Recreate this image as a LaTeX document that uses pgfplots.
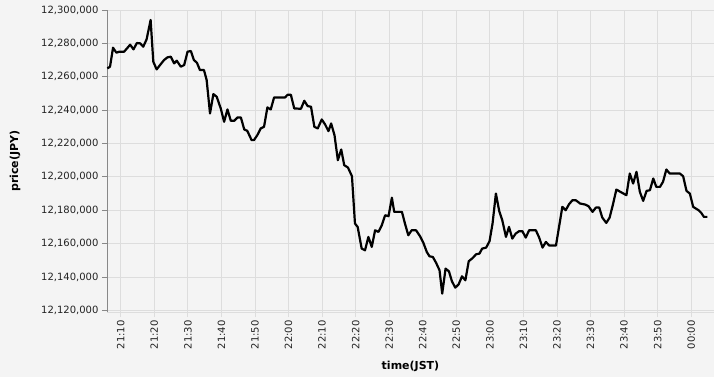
\documentclass[border=0pt]{standalone}
\usepackage{pgfplots}
\pgfplotsset{compat=1.18}
\usepackage{fontspec}
\setmainfont{DejaVu Sans}
\definecolor{bgc}{HTML}{F4F4F4}
\definecolor{gridc}{HTML}{DDDDDD}
\definecolor{axc}{HTML}{888888}
\definecolor{txtc}{HTML}{222222}
\begin{document}
\begin{tikzpicture}
\path[use as bounding box, fill=bgc] (-107pt,-65pt) rectangle (607pt,312pt);
\begin{axis}[
  at={(0pt,0pt)}, anchor=south west,
  scale only axis, width=607pt, height=302pt,
  xmin=5.9, xmax=186.8, ymin=12119000, ymax=12300000,
  axis x line*=bottom, axis y line*=left,
  x axis line style={draw=gridc, line width=1pt, -},
  y axis line style={draw=axc, line width=0.8pt, -},
  xtick={10,20,...,180},
  xticklabels={21:10,21:20,21:30,21:40,21:50,22:00,22:10,22:20,22:30,22:40,22:50,23:00,23:10,23:20,23:30,23:40,23:50,00:00},
  ytick={12120000,12140000,12160000,12180000,12200000,12220000,12240000,12260000,12280000,12300000},
  yticklabels={{12,120,000},{12,140,000},{12,160,000},{12,180,000},{12,200,000},{12,220,000},{12,240,000},{12,260,000},{12,280,000},{12,300,000}},
  scaled y ticks=false,
  tick label style={font=\fontsize{10}{12}\selectfont, text=txtc},
  xticklabel style={rotate=90, anchor=east},
  tick align=outside, major tick length=5pt,
  xtick style={draw=gridc, line width=0.8pt},
  ytick style={draw=axc, line width=0.8pt},
  grid=major, major grid style={draw=gridc, line width=0.8pt},
  xlabel={time(JST)}, ylabel={price(JPY)},
  every axis x label/.style={at={(axis description cs:0.5,0)}, yshift=-54pt, anchor=center, font=\fontsize{11}{13}\selectfont\bfseries},
  every axis y label/.style={at={(axis description cs:0,0.5)}, xshift=-92pt, rotate=90, anchor=center, font=\fontsize{11}{13}\selectfont\bfseries},
  clip=false,
]
\addplot[black, line width=2.2pt, line join=round, mark=none] coordinates {
(6.0,12265000)(6.8,12266000)(7.7,12277400)(8.7,12274400)(9.5,12275000)(11.0,12275000)
(12.8,12279200)(13.8,12276400)(14.8,12280200)(15.8,12280000)(16.7,12278000)(17.7,12282400)
(18.9,12294000)(19.7,12269000)(20.7,12264400)(21.7,12267000)(22.9,12270000)(23.9,12271600)
(24.9,12272000)(25.9,12268000)(26.7,12269600)(27.9,12266000)(28.9,12267000)(29.9,12275000)
(30.9,12275400)(31.8,12270000)(32.7,12268400)(33.6,12264000)(34.8,12264000)
(35.6,12258000)(36.6,12238000)(37.6,12249600)(38.6,12248000)(39.8,12241000)(40.8,12233000)
(41.8,12240400)(42.8,12233600)(43.8,12233600)(44.8,12235600)(45.8,12235600)(46.8,12228400)
(47.7,12227600)(49.0,12222000)(49.7,12222000)(50.7,12225000)(51.7,12229000)(52.7,12230000)
(53.7,12241600)(54.7,12240400)(55.7,12247600)(59.0,12247600)(59.7,12249200)(60.7,12249200)
(61.7,12241000)(63.7,12240800)(64.7,12245600)(65.7,12242400)(66.7,12242000)(67.7,12230000)
(68.7,12229000)(69.9,12234400)(70.9,12231400)(71.9,12227400)(72.7,12232000)(73.7,12225000)
(74.7,12210000)(75.7,12216400)(76.6,12207000)(77.7,12205600)(78.9,12200400)(79.8,12172000)
(80.6,12170000)(81.8,12157000)(82.8,12156000)(83.8,12164000)(84.8,12158000)(85.8,12168000)
(86.8,12167000)(87.8,12171000)(88.8,12177000)(89.8,12176400)(90.8,12187500)(91.5,12179000)
(93.8,12179000)(94.7,12172000)(95.7,12165000)(96.7,12168000)(98.0,12168000)(99.2,12164400)
(100.2,12160400)(101.2,12155000)(102.0,12152400)(103.0,12152000)(104.0,12148400)(105.0,12144000)
(105.8,12130000)(106.8,12145000)(107.8,12143400)(108.7,12137400)(109.7,12133600)(110.7,12135600)
(111.7,12140400)(112.7,12138000)(113.7,12149400)(114.9,12151400)(115.9,12153600)(116.9,12154000)
(117.7,12157000)(118.9,12157600)(119.9,12161400)(120.8,12172000)(121.8,12190000)(122.8,12179400)
(123.7,12174000)(124.8,12164000)(125.7,12170000)(126.7,12163000)(127.7,12166000)(128.7,12167400)
(129.7,12167400)(130.7,12163600)(131.7,12168000)(133.7,12168000)(134.7,12163600)(135.7,12157600)
(136.7,12161000)(137.7,12158800)(139.7,12158800)(141.6,12182000)(142.6,12180000)(143.6,12183600)
(144.6,12186000)(145.6,12186000)(146.9,12184000)(148.4,12183400)(149.4,12182400)(150.6,12179000)
(151.6,12181600)(152.6,12181600)(153.5,12175600)(154.7,12172400)(155.7,12175600)(156.7,12183600)
(157.7,12192400)(158.9,12191000)(160.7,12189000)(161.7,12202000)(162.7,12196000)(163.7,12203000)
(164.7,12191000)(165.7,12185600)(166.7,12191600)(167.7,12192000)(168.7,12199000)(169.6,12194000)
(170.7,12194000)(171.6,12197000)(172.6,12204400)(173.6,12202000)(176.6,12202000)(177.6,12200400)
(178.6,12191600)(179.6,12190000)(180.6,12182000)(182.2,12180000)(183.0,12178400)(183.8,12176000)
(184.8,12176000)
};
\end{axis}
\end{tikzpicture}
\end{document}
